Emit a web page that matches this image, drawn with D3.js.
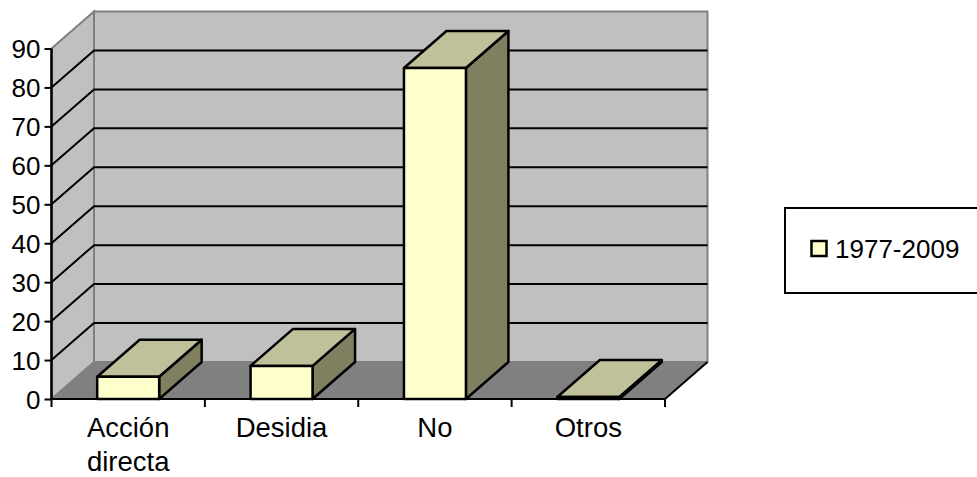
<!DOCTYPE html>
<html><head><meta charset="utf-8">
<script src="https://cdn.jsdelivr.net/npm/d3@7"></script>
<style>html,body{margin:0;padding:0;background:#fff;overflow:hidden}svg{display:block}text{font-family:"Liberation Sans",Arial,sans-serif;fill:#000;font-size:26px}</style>
</head><body><svg width="977" height="477"></svg>
<script>
const categories = [["Acción","directa"],["Desidia"],["No"],["Otros"]];
const values = [5.7, 8.5, 85, 0.5];
const yTicks = [0,10,20,30,40,50,60,70,80,90];
const seriesName = "1977-2009";

const svg = d3.select("svg");
const names = categories.map(c => c.join(" "));
const x = d3.scaleBand().domain(names).range([51.5,665]);
const y = d3.scaleLinear().domain([0,90]).range([399,48.5]);
const dx = 42.5, dy = -37;
const barFrac = 0.404;
const poly = pts => pts.map(p => p.join(",")).join(" ");
const [x0,x1] = x.range(), y0 = y(0), yT = y(90);

// back wall, side wall, floor
svg.append("polygon").attr("points",poly([[x0+dx,yT+dy],[x1+dx,yT+dy],[x1+dx,y0+dy],[x0+dx,y0+dy]]))
  .attr("fill","#c0c0c0").attr("stroke","#808080").attr("stroke-width",2);
svg.append("polygon").attr("points",poly([[x0,yT],[x0+dx,yT+dy],[x0+dx,y0+dy],[x0,y0]]))
  .attr("fill","#c0c0c0").attr("stroke","#808080").attr("stroke-width",2);
svg.append("polygon").attr("points",poly([[x0,y0],[x0+dx,y0+dy],[x1+dx,y0+dy],[x1,y0]]))
  .attr("fill","#808080").attr("stroke","#808080").attr("stroke-width",1);

// gridlines
svg.append("g").selectAll("polyline").data(yTicks.slice(1,-1)).join("polyline")
  .attr("points",d=>poly([[x0,y(d)],[x0+dx,y(d)+dy],[x1+dx,y(d)+dy]]))
  .attr("fill","none").attr("stroke","#000").attr("stroke-width",2);
svg.append("polyline").attr("points",poly([[x1+dx,y0+dy],[x1,y0],[x0,y0]])).attr("fill","none").attr("stroke","#000").attr("stroke-width",2);

// bars
const bw = x.bandwidth()*barFrac;
svg.append("g").selectAll("g").data(values).join("g").each(function(v,i){
  const g = d3.select(this);
  const l = x(names[i]) + (x.bandwidth()-bw)/2, r = l+bw, t = y(v), b = y0;
  const st = s => s.attr("stroke","#000").attr("stroke-width",2.5).attr("stroke-linejoin","round");
  st(g.append("polygon").attr("points",poly([[r,b],[r+dx,b+dy],[r+dx,t+dy],[r,t]])).attr("fill","#808060"));
  st(g.append("polygon").attr("points",poly([[l,t],[l+dx,t+dy],[r+dx,t+dy],[r,t]])).attr("fill","#c0c09a"));
  st(g.append("rect").attr("x",l).attr("y",t).attr("width",bw).attr("height",b-t).attr("fill","#ffffcc"));
});

// axes
const yAxis = d3.axisLeft(y).tickValues(yTicks).tickSize(7).tickPadding(4);
const yg = svg.append("g").attr("transform",`translate(${x0},0)`).call(yAxis);
yg.selectAll("path").attr("stroke","#000").attr("stroke-width",2.5).attr("d",`M0,${yT}V${y0}`);
yg.selectAll("line").attr("stroke","#000").attr("stroke-width",2);
yg.selectAll("text").style("font-size","26px").attr("dy","0.36em").attr("font-family",null);

const tickPos = names.map(n=>x(n)).concat([x1]);
svg.append("g").selectAll("line").data(tickPos).join("line")
  .attr("x1",d=>d).attr("x2",d=>d).attr("y1",y0).attr("y2",y0+8).attr("stroke","#000").attr("stroke-width",2);

categories.forEach((c,i)=>{
  c.forEach((s,j)=>svg.append("text").attr("text-anchor","middle").style("font-size","27.5px")
    .attr("x",x(names[i])+x.bandwidth()/2).attr("y",437+j*34).text(s));
});

// legend
svg.append("rect").attr("x",785).attr("y",208).attr("width",200).attr("height",85)
  .attr("fill","#fff").attr("stroke","#000").attr("stroke-width",2);
svg.append("rect").attr("x",811.5).attr("y",241).attr("width",15).attr("height",15)
  .attr("fill","#ffffcc").attr("stroke","#000").attr("stroke-width",2.5);
svg.append("text").attr("x",835).attr("y",258).text(seriesName);
</script></body></html>
